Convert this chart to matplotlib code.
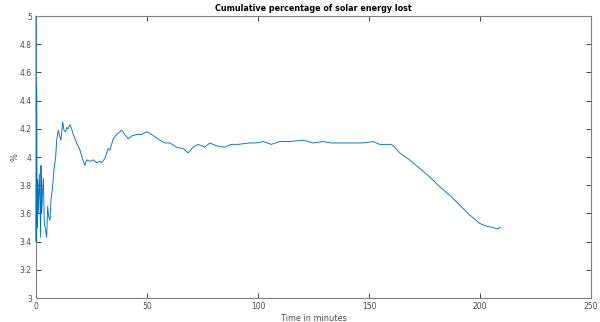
import numpy as np
import matplotlib
matplotlib.use("Agg")
import matplotlib.pyplot as plt

# Time (minutes) and cumulative percentage of solar energy lost
minutes = [
    0, 0.05, 0.3, 0.5, 0.75, 1.0, 1.5, 2.1, 2.25, 2.55, 3.0, 3.3, 3.75, 4.35,
    4.8, 5.25, 5.7, 6.3, 6.75, 7.35, 8.1, 8.85, 9.3, 10.0, 10.8, 11.25, 12.0,
    12.6, 13.35, 13.8, 14.5, 15.3, 16.05, 16.8, 18.3, 19.8, 21.3, 22.0, 22.8,
    24.3, 25.8, 27.3, 28.8, 29.6, 31.0, 32.5, 33.3, 34.8, 36.3, 38.6, 40.0,
    41.5, 43.1, 45.3, 47.6, 49.8, 52.1, 55.8, 58.0, 60.3, 63.3, 66.3, 68.5,
    70.8, 73.0, 76.0, 78.3, 81.3, 85.0, 88.0, 91.0, 96.3, 99.3, 102.3, 106.0,
    109.8, 114.3, 120.3, 124.8, 129.3, 133.0, 138.3, 142.8, 147.3, 151.8,
    154.8, 157.8, 160.0, 161.6, 163.8, 168.3, 172.8, 177.3, 181.8, 186.3,
    190.8, 195.3, 199.8, 202.8, 205.8, 207.6, 209.3,
]
pct_lost = [
    5.0, 3.40, 4.50, 3.50, 3.84, 3.60, 3.88, 3.43, 3.94, 3.60, 3.77, 3.85,
    3.53, 3.48, 3.43, 3.65, 3.58, 3.55, 3.70, 3.77, 3.91, 4.00, 4.12, 4.19,
    4.14, 4.12, 4.25, 4.19, 4.18, 4.21, 4.20, 4.23, 4.20, 4.16, 4.10, 4.05,
    3.97, 3.94, 3.98, 3.97, 3.98, 3.96, 3.97, 3.96, 3.99, 4.06, 4.05, 4.13,
    4.16, 4.19, 4.16, 4.13, 4.15, 4.16, 4.16, 4.18, 4.16, 4.12, 4.10, 4.10,
    4.07, 4.06, 4.03, 4.07, 4.09, 4.07, 4.10, 4.08, 4.07, 4.09, 4.09, 4.10,
    4.10, 4.11, 4.09, 4.11, 4.11, 4.12, 4.10, 4.11, 4.10, 4.10, 4.10, 4.10,
    4.11, 4.09, 4.09, 4.09, 4.07, 4.03, 3.98, 3.92, 3.86, 3.79, 3.73, 3.66,
    3.59, 3.53, 3.51, 3.50, 3.49, 3.50,
]

x_ticks = [0, 50, 100, 150, 200, 250]
y_ticks = [3, 3.2, 3.4, 3.6, 3.8, 4, 4.2, 4.4, 4.6, 4.8, 5]
y_tick_labels = ["3", "3.2", "3.4", "3.6", "3.8", "4", "4.2", "4.4", "4.6", "4.8", "5"]

axis_grey = "#262626"
label_grey = "#4d4d4d"

fig = plt.figure(figsize=(6.0, 3.22), dpi=100)
ax = fig.add_axes([0.06, 0.0745, 0.925, 0.8755])

# drawn above the spines so the early spike along x=0 stays visible
ax.plot(minutes, pct_lost, color="#0072BD", linewidth=0.65, zorder=3,
        clip_on=False)

ax.set_xlim(0, 250)
ax.set_ylim(3, 5)
ax.set_xticks(x_ticks)
ax.set_yticks(y_ticks)
ax.set_yticklabels(y_tick_labels)

ax.tick_params(direction="in", length=3.5, width=0.6, colors=axis_grey,
               labelcolor=label_grey, labelsize=5.5, top=True, right=True,
               pad=3)
for side in ax.spines.values():
    side.set_color("#808080")
    side.set_linewidth(0.8)

ax.set_title("Cumulative percentage of solar energy lost", fontsize=5.8,
             fontweight="bold", color="black", pad=4)
ax.set_xlabel("Time in minutes", fontsize=5.9, color=label_grey, labelpad=2)
ax.set_ylabel("%", fontsize=5.9, color=label_grey, labelpad=0)

fig.savefig("out.png", dpi=100)
